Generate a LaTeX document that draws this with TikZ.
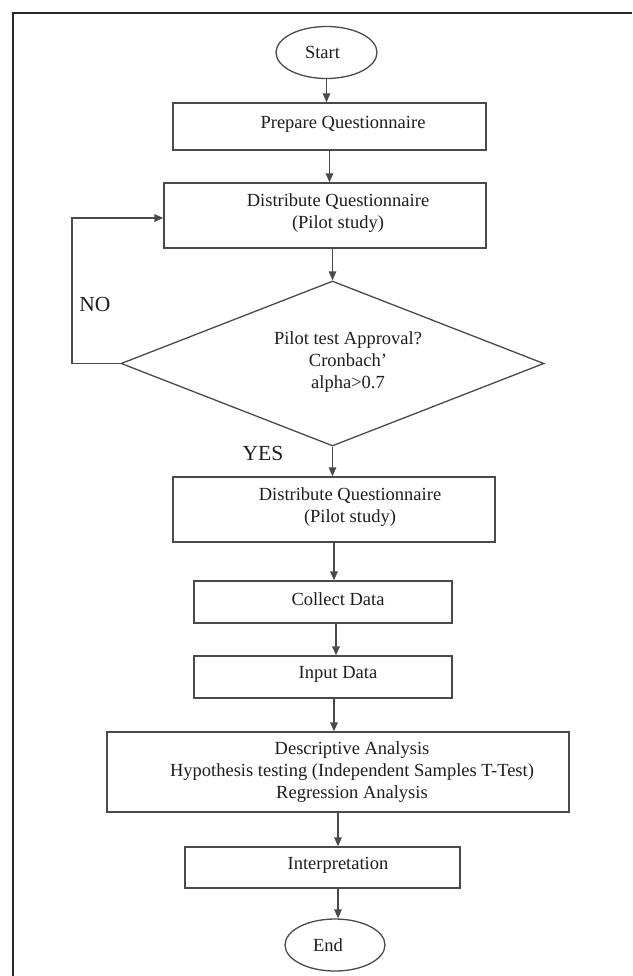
\documentclass[tikz,border=0pt]{standalone}
\usepackage{fontspec}
\setmainfont{Liberation Serif}
\usetikzlibrary{shapes.geometric,arrows.meta}
\definecolor{ln}{HTML}{4A4A4A}
\definecolor{tx}{HTML}{1E1E1E}
\tikzset{
  boxnode/.style={draw=ln, line width=1.3pt, rectangle, inner sep=0pt},
  ovalnode/.style={draw=ln, line width=1.3pt, ellipse, inner sep=0pt},
  txt/.style={text=tx, font=\fontsize{18.5}{22}\selectfont, align=center, inner sep=0pt},
  lbl/.style={text=tx, font=\fontsize{21.5}{24}\selectfont, inner sep=0pt},
  arr/.style={draw=ln, line width=1.3pt, -{Triangle[length=9pt,width=7.5pt]}},
  frame/.style={draw=black!85, line width=2.6pt}
}
\begin{document}
\begin{tikzpicture}[x=1pt,y=-1pt]
\useasboundingbox (0,0) rectangle (632,976);
\fill[white] (0,0) rectangle (632,976);
\draw[frame] (632,13) -- (13,13) -- (13,976);

% shapes
\node[ovalnode, minimum width=101pt, minimum height=52pt] (start) at (326.5,52.5) {};
\node[txt] (startt) at (322.5,52) {Start};

\node[boxnode, minimum width=313pt, minimum height=47pt] (prep) at (329.5,126.5) {};
\node[txt] (prept) at (343,124) {Prepare Questionnaire};

\node[boxnode, minimum width=322pt, minimum height=65pt] (dist) at (325,215.5) {};
\node[txt] (distt) at (338,213) {Distribute Questionnaire\\(Pilot study)};

\node[draw=ln, line width=1.3pt, diamond, inner sep=0pt, minimum width=423pt, minimum height=165pt] (dia) at (332.5,363.5) {};
\node[txt] (diat) at (348,362) {Pilot test Approval?\\Cronbach'\\alpha>0.7};

\node[boxnode, minimum width=322pt, minimum height=65pt] (dq2) at (334,509.5) {};
\node[txt] (dq2t) at (350,507) {Distribute Questionnaire\\(Pilot study)};

\node[boxnode, minimum width=258pt, minimum height=42pt] (collect) at (323,602) {};
\node[txt] (collectt) at (338,599) {Collect Data};

\node[boxnode, minimum width=258pt, minimum height=42pt] (input) at (323,677) {};
\node[txt] (inputt) at (338,674) {Input Data};

\node[boxnode, minimum width=462pt, minimum height=80pt] (ana) at (338,772) {};
\node[txt] (anat) at (352,772) {Descriptive Analysis\\Hypothesis testing (Independent Samples T-Test)\\Regression Analysis};

\node[boxnode, minimum width=275pt, minimum height=41pt] (interp) at (322.5,867.5) {};
\node[txt] (interpt) at (338,865) {Interpretation};

\node[ovalnode, minimum width=100pt, minimum height=52pt] (end) at (335,945) {};
\node[txt] (endt) at (328,945) {End};

\node[lbl] (no) at (95,304) {NO};
\node[lbl] (yes) at (263,453) {YES};

\coordinate (fb) at (72,363.5);

% connectors
\draw[arr] (start) -- (start |- prep.north);
\draw[arr] (prep) -- (prep |- dist.north);
\draw[arr] (dia.north |- dist.south) -- (dia.north);
\draw[arr] (dia.south) -- (dia.south |- dq2.north);
\draw[arr] (dq2) -- (dq2 |- collect.north);
\draw[arr] ([xshift=2pt]dq2 |- collect.south) -- ([xshift=2pt]dq2 |- input.north);
\draw[arr] (dq2 |- input.south) -- (dq2 |- ana.north);
\draw[arr] (ana) -- (ana |- interp.north);
\draw[arr] (ana |- interp.south) -- (ana |- end.north);
\draw[arr] (dia.west) -- (fb) |- ([yshift=-2.5pt]dist.west);
\end{tikzpicture}
\end{document}
